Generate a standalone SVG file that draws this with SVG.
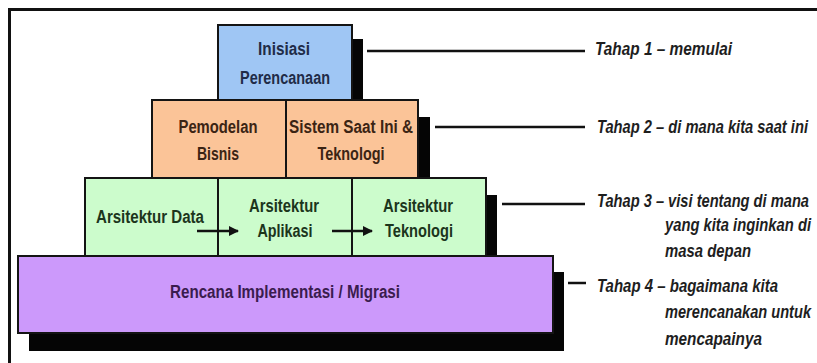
<svg xmlns="http://www.w3.org/2000/svg" width="817" height="363" viewBox="0 0 817 363">
<style>
.box{stroke:#141414;stroke-width:2}
.sh{fill:#050505}
.bt{font-family:"Liberation Sans",Arial,sans-serif;font-size:18px;font-weight:bold;text-anchor:middle}
.lb{font-family:"Liberation Sans",Arial,sans-serif;font-size:18px;font-weight:bold;font-style:italic;fill:#1e1e1e}
.ln{stroke:#111;stroke-width:2.5;fill:none}
.ar{stroke:#111;stroke-width:2.5;fill:none;marker-end:url(#ah)}
</style>
<defs>
<marker id="ah" viewBox="0 0 10 10" refX="9" refY="5" markerWidth="10" markerHeight="10" markerUnits="userSpaceOnUse" orient="auto">
<path d="M0,0 L10,5 L0,10 Z" fill="#111"/>
</marker>
</defs>
<rect width="817" height="363" fill="#ffffff"/>
<path d="M9.5,363 V9.5 H817" stroke="#111" stroke-width="3" fill="none"/>
<g id="shadows">
<rect class="sh" x="29" y="272" width="535" height="79"/>
<rect class="sh" x="96" y="195" width="401" height="70"/>
<rect class="sh" x="163" y="117" width="267" height="70"/>
<rect class="sh" x="229" y="39" width="134" height="70"/>
</g>
<g id="node-rencana">
<rect class="box" x="18" y="256" width="535" height="77" fill="#cc99fb"/>
<text class="bt" x="285" y="298" fill="#3a1c4e" textLength="230" lengthAdjust="spacingAndGlyphs">Rencana Implementasi / Migrasi</text>
</g>
<g id="node-arsitektur-data">
<rect class="box" x="85" y="178" width="133" height="78" fill="#ccfccc"/>
<text class="bt" x="150" y="223" fill="#1c351c" textLength="108" lengthAdjust="spacingAndGlyphs">Arsitektur Data</text>
</g>
<g id="node-arsitektur-aplikasi">
<rect class="box" x="218" y="178" width="134" height="78" fill="#ccfccc"/>
<text class="bt" x="284" y="212" fill="#1c351c" textLength="70" lengthAdjust="spacingAndGlyphs">Arsitektur</text>
<text class="bt" x="285" y="237" fill="#1c351c" textLength="55" lengthAdjust="spacingAndGlyphs">Aplikasi</text>
</g>
<g id="node-arsitektur-teknologi">
<rect class="box" x="352" y="178" width="134" height="78" fill="#ccfccc"/>
<text class="bt" x="418" y="212" fill="#1c351c" textLength="70" lengthAdjust="spacingAndGlyphs">Arsitektur</text>
<text class="bt" x="419" y="237" fill="#1c351c" textLength="68" lengthAdjust="spacingAndGlyphs">Teknologi</text>
</g>
<g id="node-pemodelan">
<rect class="box" x="152" y="100" width="134" height="78" fill="#fbc498"/>
<text class="bt" x="218" y="133" fill="#3b2414" textLength="79" lengthAdjust="spacingAndGlyphs">Pemodelan</text>
<text class="bt" x="218" y="160" fill="#3b2414" textLength="42" lengthAdjust="spacingAndGlyphs">Bisnis</text>
</g>
<g id="node-sistem">
<rect class="box" x="286" y="100" width="132" height="78" fill="#fbc498"/>
<text class="bt" x="351" y="133" fill="#3b2414" textLength="124" lengthAdjust="spacingAndGlyphs">Sistem Saat Ini &amp;</text>
<text class="bt" x="351" y="160" fill="#3b2414" textLength="67" lengthAdjust="spacingAndGlyphs">Teknologi</text>
</g>
<g id="node-inisiasi">
<rect class="box" x="218" y="25" width="134" height="75" fill="#9fc6f4"/>
<text class="bt" x="284" y="55" fill="#1f2c48" textLength="52" lengthAdjust="spacingAndGlyphs">Inisiasi</text>
<text class="bt" x="285" y="84" fill="#1f2c48" textLength="90" lengthAdjust="spacingAndGlyphs">Perencanaan</text>
</g>
<g id="connectors">
<line class="ar" x1="197" y1="231" x2="238" y2="231"/>
<line class="ar" x1="332" y1="231" x2="372" y2="231"/>
<line class="ln" x1="367" y1="51" x2="585" y2="51"/>
<line class="ln" x1="435" y1="127" x2="585" y2="127"/>
<line class="ln" x1="502" y1="204" x2="585" y2="204"/>
<line class="ln" x1="568" y1="283" x2="586" y2="283"/>
</g>
<g id="labels">
<text class="lb" x="595" y="55" textLength="137" lengthAdjust="spacingAndGlyphs">Tahap 1 – memulai</text>
<text class="lb" x="597" y="133" textLength="211" lengthAdjust="spacingAndGlyphs">Tahap 2 – di mana kita saat ini</text>
<text class="lb" x="597" y="207" textLength="212" lengthAdjust="spacingAndGlyphs">Tahap 3 – visi tentang di mana</text>
<text class="lb" x="665" y="231" textLength="146" lengthAdjust="spacingAndGlyphs">yang kita inginkan di</text>
<text class="lb" x="665" y="257" textLength="86" lengthAdjust="spacingAndGlyphs">masa depan</text>
<text class="lb" x="597" y="292" textLength="181" lengthAdjust="spacingAndGlyphs">Tahap 4 – bagaimana kita</text>
<text class="lb" x="665" y="318" textLength="146" lengthAdjust="spacingAndGlyphs">merencanakan untuk</text>
<text class="lb" x="665" y="345" textLength="97" lengthAdjust="spacingAndGlyphs">mencapainya</text>
</g>
</svg>
